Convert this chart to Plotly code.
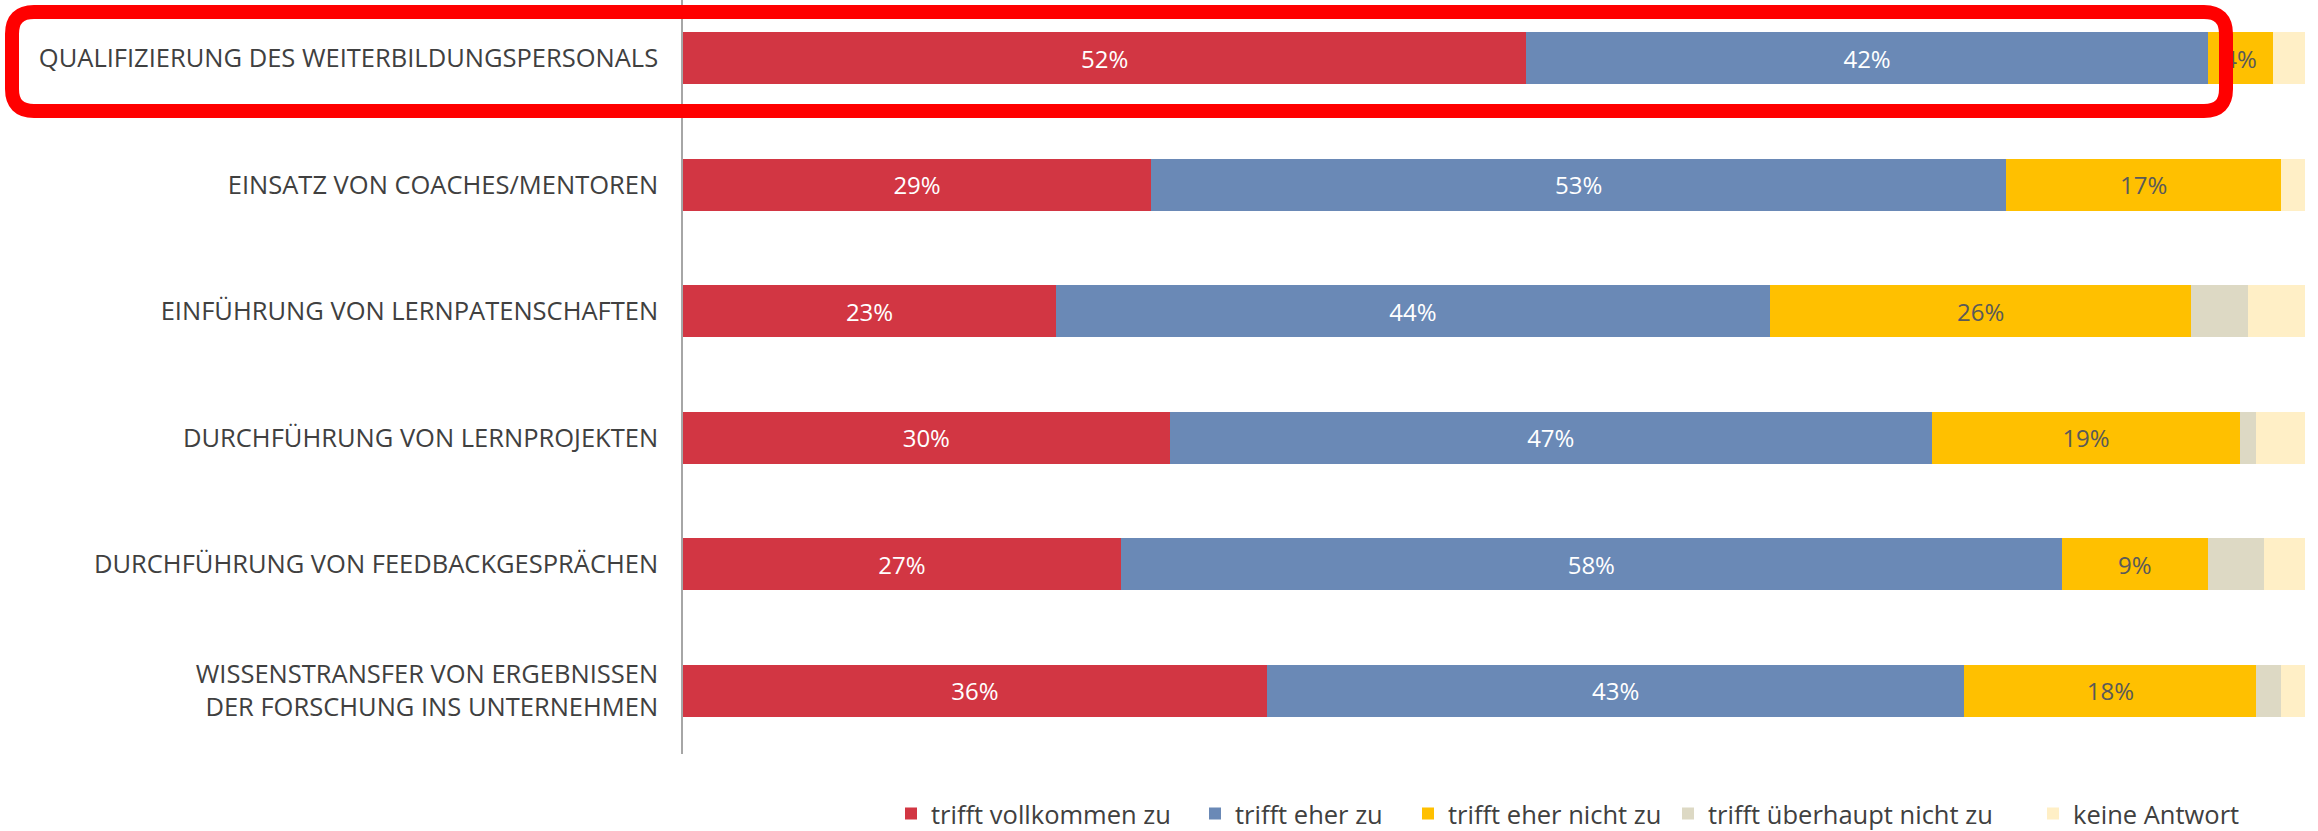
import plotly.graph_objects as go

# Survey items (top to bottom)
categories = [
    "QUALIFIZIERUNG DES WEITERBILDUNGSPERSONALS",
    "EINSATZ VON COACHES/MENTOREN",
    "EINFÜHRUNG VON LERNPATENSCHAFTEN",
    "DURCHFÜHRUNG VON LERNPROJEKTEN",
    "DURCHFÜHRUNG VON FEEDBACKGESPRÄCHEN",
    "WISSENSTRANSFER VON ERGEBNISSEN<br>DER FORSCHUNG INS UNTERNEHMEN",
]

# Answer shares in percent
trifft_vollkommen_zu = [52, 29, 23, 30, 27, 36]
trifft_eher_zu = [42, 53, 44, 47, 58, 43]
trifft_eher_nicht_zu = [4, 17, 26, 19, 9, 18]
trifft_ueberhaupt_nicht_zu = [0, 0, 3.5, 1, 3.5, 1.5]
keine_antwort = [2, 1.5, 3.5, 3, 2.5, 1.5]

series = [
    ("trifft vollkommen zu", trifft_vollkommen_zu, "#D23643", "#FFFFFF", True),
    ("trifft eher zu", trifft_eher_zu, "#6A89B6", "#FFFFFF", True),
    ("trifft eher nicht zu", trifft_eher_nicht_zu, "#FFC000", "#595959", True),
    ("trifft überhaupt nicht zu", trifft_ueberhaupt_nicht_zu, "#DDD9C4", "#595959", False),
    ("keine Antwort", keine_antwort, "#FFEFC6", "#595959", False),
]

W, H = 2318, 831
L, R, T, B = 683, 13, 0, 77
FONT = "Open Sans"
pw, ph = W - L - R, H - T - B

# left edge (px) of each legend entry's colour key
legend_key_px = [905, 1209, 1422, 1682, 2047]

fig = go.Figure()
legend_layout = {}
for i, (name, vals, color, tcolor, labelled) in enumerate(series):
    lname = "legend" if i == 0 else f"legend{i + 1}"
    fig.add_trace(go.Bar(
        name=name,
        y=categories,
        x=vals,
        orientation="h",
        marker=dict(color=color, line=dict(width=0)),
        text=[f"{v:g}%" for v in vals] if labelled else None,
        textposition="inside" if labelled else "none",
        insidetextanchor="middle",
        textfont=dict(family=FONT, size=24, color=tcolor),
        hoverinfo="name+x",
        legend=lname,
    ))
    legend_layout[lname] = dict(
        orientation="h",
        x=(legend_key_px[i] - 14 - L) / pw, xanchor="left",
        y=1 - (814 - T) / ph, yanchor="middle",
        font=dict(family=FONT, size=25.5, color="#404040"),
        bgcolor="rgba(0,0,0,0)",
        itemclick=False, itemdoubleclick=False,
    )


# Highlight frame around the first item (rounded rectangle, pixel-based)
def px(x):
    return (x - L) / pw


def py(y):
    return 1 - (y - T) / ph


x0, x1, y0, y1, r = 12, 2226, 12, 111, 22
path = (
    f"M{px(x0 + r)},{py(y0)} L{px(x1 - r)},{py(y0)} "
    f"Q{px(x1)},{py(y0)} {px(x1)},{py(y0 + r)} "
    f"L{px(x1)},{py(y1 - r)} Q{px(x1)},{py(y1)} {px(x1 - r)},{py(y1)} "
    f"L{px(x0 + r)},{py(y1)} Q{px(x0)},{py(y1)} {px(x0)},{py(y1 - r)} "
    f"L{px(x0)},{py(y0 + r)} Q{px(x0)},{py(y0)} {px(x0 + r)},{py(y0)} Z"
)
fig.add_shape(type="path", path=path, xref="paper", yref="paper",
              line=dict(color="#FF0000", width=14), layer="above")

fig.update_layout(
    width=W, height=H,
    margin=dict(l=L, r=R, t=T, b=B, autoexpand=False),
    barmode="stack",
    barnorm="percent",
    bargap=0.59,
    plot_bgcolor="white",
    paper_bgcolor="white",
    font=dict(family=FONT, size=22, color="#404040"),
    uniformtext=dict(mode="show", minsize=24),
    xaxis=dict(visible=False, range=[0, 100], fixedrange=True),
    yaxis=dict(
        categoryorder="array", categoryarray=categories,
        range=[5.5, -0.46],
        showline=True, linecolor="#A6A6A6", linewidth=1.5,
        showgrid=False, zeroline=False, ticks="",
        ticklabelstandoff=18,
        tickfont=dict(family=FONT, size=25.5, color="#404040"),
    ),
    showlegend=True,
    **legend_layout,
)

fig.write_html("out.html")
